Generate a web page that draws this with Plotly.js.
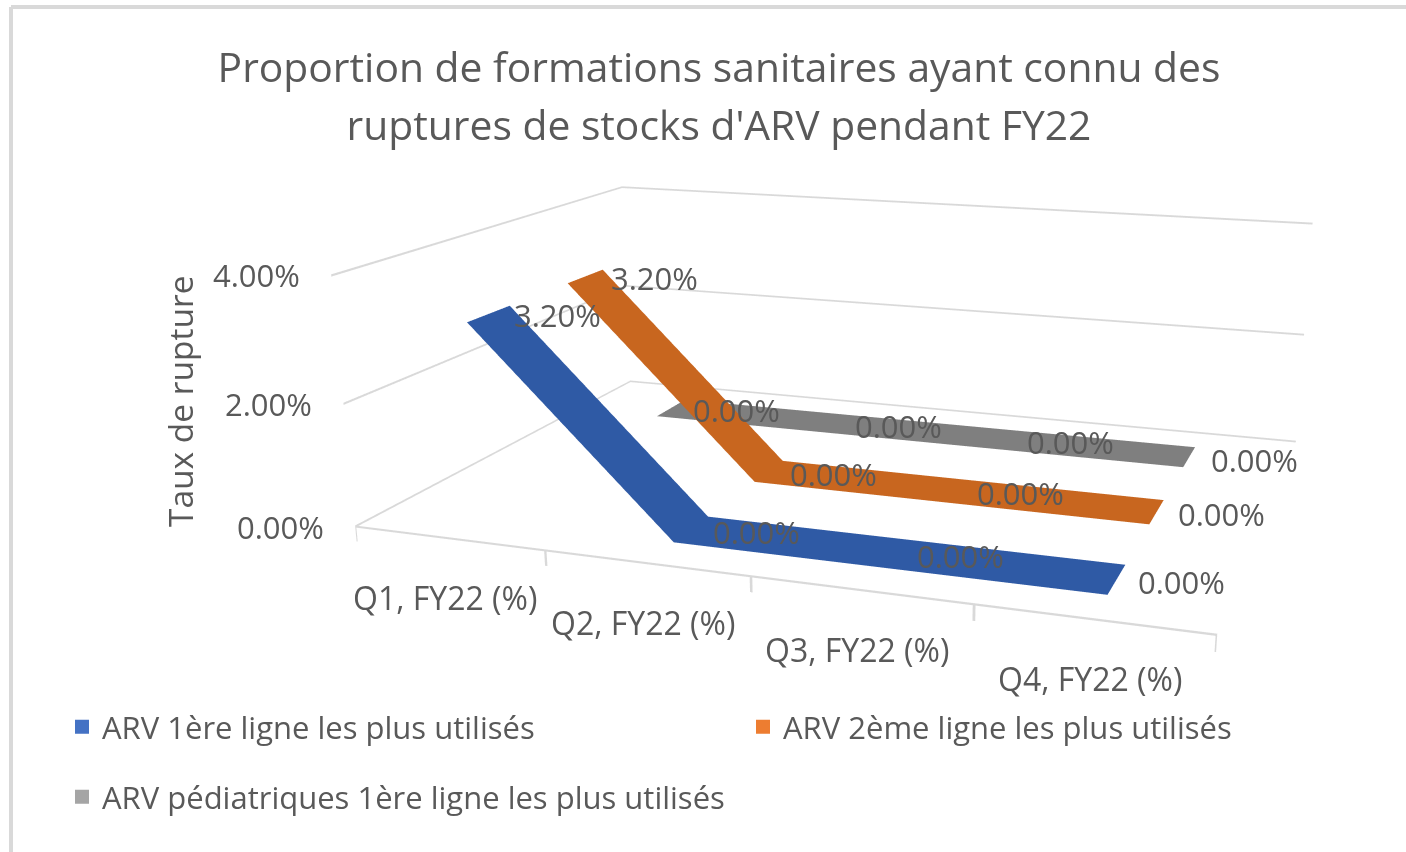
<!DOCTYPE html>
<html><head><meta charset="utf-8">
<script src="https://cdn.plot.ly/plotly-3.0.1.min.js"></script>
<style>html,body{margin:0;padding:0;background:#fff;overflow:hidden;width:1406px;height:852px}
#chart{position:absolute;left:0;top:-245px;width:1746px;height:1456px}</style>
</head><body><div id="chart"></div>
<script>
const titleLines = ["Proportion de formations sanitaires ayant connu des", "ruptures de stocks d'ARV pendant FY22"];
const quarters = ["Q1, FY22 (%)", "Q2, FY22 (%)", "Q3, FY22 (%)", "Q4, FY22 (%)"];
const seriesNames = ["ARV 1ère ligne les plus utilisés", "ARV 2ème ligne les plus utilisés", "ARV pédiatriques 1ère ligne les plus utilisés"];
const arv1 = [3.2, 0, 0, 0];
const arv2 = [3.2, 0, 0, 0];
const arvPed = [0, 0, 0, 0];
const zTicks = [0, 2, 4];
const ribbonColors = ["#2f5aa5", "#c8661f", "#7f7f7f"];
const legendColors = ["#4472c4", "#ed7d31", "#a5a5a5"];
const yAxisTitle = "Taux de rupture";

const W = 1746, H = 1456, TOP = 245;
const px = x => x / W, py = y => 1 - (y + TOP) / H;
const FONT = '"Open Sans", sans-serif', GREY = '#595959', RULE = '#d9d9d9';
const halfWidth = 0.2, zLo = -0.25, zHi = 4.04, zThick = 0.017, xThick = 0.006, pad = 0.01;
const values = [arv1, arv2, arvPed];
const nQ = quarters.length, nS = values.length;
const flat = {ambient: 1, diffuse: 0, specular: 0, fresnel: 0, roughness: 1};

const ribbons = values.map((vals, s) => {
  const x = [], y = [], z = [], i = [], j = [], k = [];
  vals.forEach((v, q) => {
    x.push(q + 0.5, q + 0.5); y.push(s + 0.5 - halfWidth, s + 0.5 + halfWidth); z.push(v, v);
    if (q > 0) { const a = 2 * q; i.push(a-2, a-1); j.push(a-1, a); k.push(a, a+1); }
  });
  return {type: 'mesh3d', x, y, z, i, j, k, name: seriesNames[s], color: ribbonColors[s], flatshading: true,
    lighting: flat, hoverinfo: 'skip', showlegend: false, showscale: false};
});

// Legend keys (no points drawn in the scene)
const keys = seriesNames.map((n, s) => ({type: 'scatter3d', mode: 'markers', x: [null], y: [null], z: [null], name: n,
  marker: {symbol: 'square', size: 16, color: legendColors[s], line: {color: legendColors[s], width: 4}},
  hoverinfo: 'skip', showlegend: true, legend: s === 0 ? 'legend' : 'legend' + (s + 1)}));

// Wall gridlines, floor front edge and category tick marks, as thin strips (2px)
const rx = [], ry = [], rz = [], ri = [], rj = [], rk = [];
function strip(a, b, c, d) {
  const n = rx.length;
  [a, b, c, d].forEach(p => { rx.push(p[0]); ry.push(p[1]); rz.push(p[2]); });
  ri.push(n, n); rj.push(n + 1, n + 2); rk.push(n + 2, n + 3);
}
function hRule(x0, y0, x1, y1, t) {
  strip([x0, y0, t - zThick], [x1, y1, t - zThick], [x1, y1, t + zThick], [x0, y0, t + zThick]);
}
zTicks.forEach(t => { hRule(0, 0, 0, nS, t); hRule(0, nS, nQ, nS, t); });
hRule(0, 0, nQ, 0, 0);
for (let t = 0; t <= nQ; t++) {
  const a = Math.max(0, t - xThick), b = Math.min(nQ, t + xThick);
  strip([a, 0, zLo], [b, 0, zLo], [b, 0, 0], [a, 0, 0]);
}
const rules = {type: 'mesh3d', x: rx, y: ry, z: rz, i: ri, j: rj, k: rk, color: RULE, flatshading: true, lighting: flat, hoverinfo: 'skip', showlegend: false, showscale: false};

const dataFont = {family: FONT, size: 31, color: GREY};
const catFont = {family: FONT, size: 32, color: GREY};
const sceneAnn = [];
values.forEach((vals, s) => vals.forEach((v, q) => sceneAnn.push({
  x: q + 0.5, y: s + 0.5, z: v, text: v.toFixed(2) + '%', showarrow: false,
  xanchor: 'center', yanchor: 'middle', xshift: v > 0 ? 69 : 65, yshift: v > 0 ? -1.5 : -2.5, font: dataFont})));
quarters.forEach((q, n) => sceneAnn.push({x: n + 0.5, y: 0, z: 0, text: q, showarrow: false,
  xanchor: 'center', yanchor: 'middle', xshift: -3, yshift: -59, font: catFont}));
zTicks.forEach(t => sceneAnn.push({x: 0, y: 0, z: t, text: t.toFixed(2) + '%', showarrow: false,
  xanchor: 'center', yanchor: 'middle', xshift: -75, yshift: 0, font: dataFont}));

const legendBase = {bgcolor: 'rgba(0,0,0,0)', font: {family: FONT, size: 31, color: GREY}, xanchor: 'left', yanchor: 'middle', itemclick: false, itemsizing: 'constant'};
const axisOff = {showgrid: false, zeroline: false, showbackground: false, showticklabels: false, title: {text: ''}, showspikes: false, ticks: ''};
const zScale = 0.438 / 4;
const aspectZ = zScale * (zHi - zLo);
const lift = (2 - (zLo + zHi) / 2) * zScale;

const layout = {
  width: W, height: H, margin: {l: 0, r: 0, t: 0, b: 0, pad: 0}, paper_bgcolor: '#fff',
  title: {text: titleLines.map(t => '<span style="font-size:40.8px">' + t + '</span>').join('<br>'),
    font: {family: FONT, size: 44.6, color: GREY}, x: px(719), xanchor: 'center', y: py(82), yanchor: 'middle', xref: 'paper', yref: 'paper'},
  legend: {...legendBase, x: px(62), y: py(727)},
  legend2: {...legendBase, x: px(743), y: py(727)},
  legend3: {...legendBase, x: px(62), y: py(797)},
  scene: {
    domain: {x: [0, 1], y: [0, 1]},
    aspectmode: 'manual',
    aspectratio: {x: 1.477 * (nQ + 2 * pad) / nQ, y: 1.055 * (nS + 2 * pad) / nS, z: aspectZ},
    camera: {eye: {x: 1.0375, y: -2.9425, z: 0.78 + lift}, center: {x: 0.043, y: -0.055, z: -0.202 + lift}, up: {x: 0, y: 0, z: 1}},
    xaxis: {...axisOff, range: [-pad, nQ + pad]},
    yaxis: {...axisOff, range: [-pad, nS + pad]},
    zaxis: {...axisOff, range: [zLo, zHi], tickmode: 'array', tickvals: zTicks, showgrid: false},
    annotations: sceneAnn
  },
  annotations: [{xref: 'paper', yref: 'paper', x: px(180), y: py(401), text: yAxisTitle, textangle: -90, showarrow: false,
    xanchor: 'center', yanchor: 'middle', font: {family: FONT, size: 33.5, color: GREY}}],
  shapes: [
    {type: 'line', xref: 'paper', yref: 'paper', x0: px(11), x1: px(1406), y0: py(7), y1: py(7), line: {color: RULE, width: 4}},
    {type: 'line', xref: 'paper', yref: 'paper', x0: px(11), x1: px(11), y0: py(7), y1: py(852), line: {color: RULE, width: 4}}
  ]
};
Plotly.newPlot('chart', [rules, ...ribbons, ...keys], layout, {displayModeBar: false});
</script></body></html>
